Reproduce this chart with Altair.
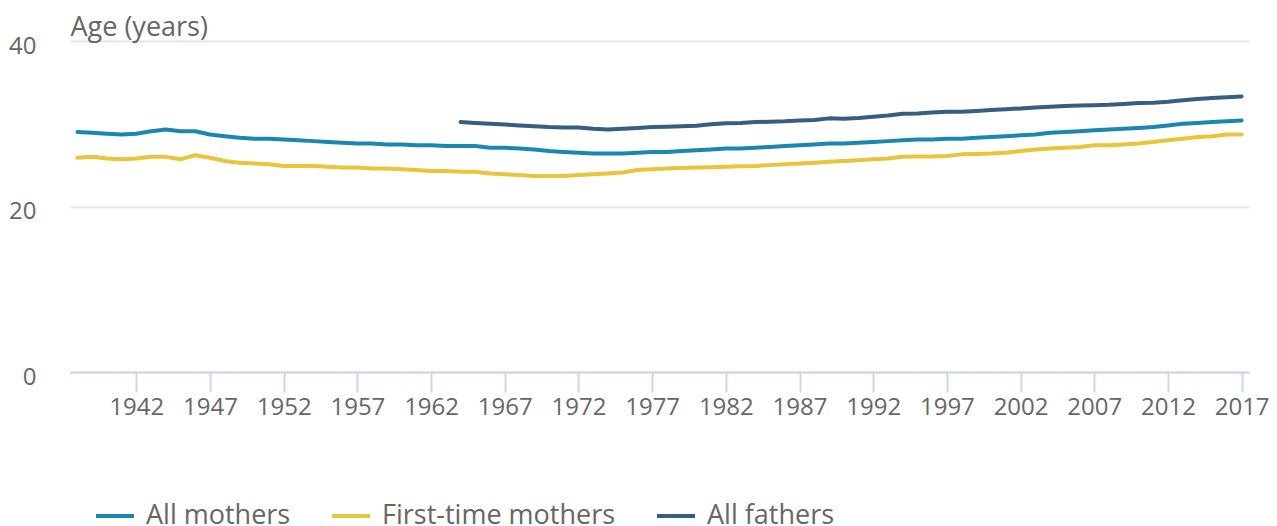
import altair as alt
import pandas as pd

years = list(range(1938, 2018))

all_mothers = [
    29.0, 28.9, 28.8, 28.7, 28.8, 29.1, 29.3, 29.1, 29.1, 28.7,
    28.5, 28.3, 28.2, 28.2, 28.1, 28.0, 27.9, 27.8, 27.7, 27.6,
    27.6, 27.5, 27.5, 27.4, 27.4, 27.3, 27.3, 27.3, 27.1, 27.1,
    27.0, 26.9, 26.7, 26.6, 26.5, 26.4, 26.4, 26.4, 26.5, 26.6,
    26.6, 26.7, 26.8, 26.9, 27.0, 27.0, 27.1, 27.2, 27.3, 27.4,
    27.5, 27.6, 27.6, 27.7, 27.8, 27.9, 28.0, 28.1, 28.1, 28.2,
    28.2, 28.3, 28.4, 28.5, 28.6, 28.7, 28.9, 29.0, 29.1, 29.2,
    29.3, 29.4, 29.5, 29.6, 29.8, 30.0, 30.1, 30.2, 30.3, 30.4,
]

first_time_mothers = [
    25.9, 26.0, 25.8, 25.7, 25.8, 26.0, 26.0, 25.7, 26.2, 25.9,
    25.5, 25.3, 25.2, 25.1, 24.9, 24.9, 24.9, 24.8, 24.7, 24.7,
    24.6, 24.6, 24.5, 24.4, 24.3, 24.3, 24.2, 24.2, 24.0, 23.9,
    23.8, 23.7, 23.7, 23.7, 23.8, 23.9, 24.0, 24.1, 24.4, 24.5,
    24.6, 24.65, 24.7, 24.75, 24.8, 24.85, 24.9, 25.0, 25.1, 25.2,
    25.3, 25.4, 25.5, 25.6, 25.7, 25.8, 26.0, 26.05, 26.05, 26.1,
    26.3, 26.35, 26.4, 26.5, 26.7, 26.9, 27.0, 27.1, 27.2, 27.4,
    27.4, 27.5, 27.6, 27.8, 28.0, 28.2, 28.4, 28.5, 28.7, 28.7,
]

father_years = list(range(1964, 2018))
all_fathers = [
    30.2, 30.1, 30.0, 29.9, 29.8, 29.7, 29.6, 29.55, 29.55, 29.4,
    29.3, 29.4, 29.5, 29.6, 29.65, 29.7, 29.75, 29.95, 30.05, 30.1,
    30.2, 30.25, 30.3, 30.4, 30.45, 30.65, 30.6, 30.7, 30.85, 31.0,
    31.2, 31.25, 31.35, 31.45, 31.45, 31.55, 31.65, 31.75, 31.85, 31.95,
    32.05, 32.15, 32.2, 32.25, 32.3, 32.4, 32.5, 32.55, 32.65, 32.85,
    33.0, 33.1, 33.2, 33.3,
]

series_names = ["All mothers", "First-time mothers", "All fathers"]
series_colors = ["#1b87b0", "#e8c53a", "#375d80"]
tick_years = list(range(1942, 2018, 5))
y_ticks = [0, 20, 40]

rows = []
for y, v in zip(years, all_mothers):
    rows.append({"year": y, "age": v, "series": series_names[0]})
for y, v in zip(years, first_time_mothers):
    rows.append({"year": y, "age": v, "series": series_names[1]})
for y, v in zip(father_years, all_fathers):
    rows.append({"year": y, "age": v, "series": series_names[2]})
df = pd.DataFrame(rows)

FONT = "Open Sans"
GRAY = "#666666"

chart = alt.Chart(df).mark_line(strokeWidth=4, strokeJoin="round", strokeCap="round").encode(
    x=alt.X(
        "year:Q",
        scale=alt.Scale(domain=[1937.5, 2017.5], nice=False, zero=False),
        axis=alt.Axis(
            values=tick_years,
            format="d",
            title=None,
            grid=False,
            domainColor="#ccd6eb",
            domainWidth=2,
            tickColor="#ccd6eb",
            tickWidth=2,
            tickSize=20,
            labelFontSize=24,
            labelColor=GRAY,
            labelFont=FONT,
            labelPadding=3,
            labelFlush=False,
            labelOverlap=False,
        ),
    ),
    y=alt.Y(
        "age:Q",
        scale=alt.Scale(domain=[0, 40], nice=False),
        axis=alt.Axis(
            values=y_ticks,
            title="Age (years)",
            titleAngle=0,
            titleAlign="left",
            titleBaseline="alphabetic",
            titleX=0,
            titleY=-6,
            titleFontSize=27,
            titleFontWeight="normal",
            titleColor=GRAY,
            titleFont=FONT,
            domain=False,
            ticks=False,
            gridColor="#e6e6e6",
            gridWidth=2,
            labelFontSize=24,
            labelColor=GRAY,
            labelFont=FONT,
            labelPadding=34,
            labelBaseline="middle",
            labelOffset=5,
        ),
    ),
    color=alt.Color(
        "series:N",
        scale=alt.Scale(domain=series_names, range=series_colors),
        legend=alt.Legend(
            title=None,
            orient="none",
            direction="horizontal",
            legendX=24,
            legendY=454,
            symbolType="stroke",
            symbolSize=1444,
            symbolStrokeWidth=4,
            labelFontSize=27,
            labelColor=GRAY,
            labelFont=FONT,
            labelOffset=10,
            labelLimit=500,
            columnPadding=33,
        ),
    ),
).properties(
    width=1179,
    height=331,
    autosize=alt.AutoSizeParams(type="none"),
    padding={"left": 62, "top": 33, "right": 20, "bottom": 175},
).configure_view(stroke=None)

chart.save("out.html", embed_options={"renderer": "svg", "actions": False})
